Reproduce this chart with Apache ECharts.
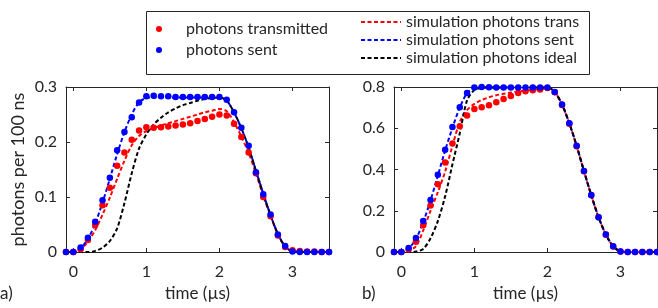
<!DOCTYPE html>
<html>
<head>
<meta charset="utf-8">
<script src="https://cdn.jsdelivr.net/npm/echarts@6/dist/echarts.min.js"></script>
<style>
  html, body { margin: 0; padding: 0; background: #fff; }
  #chart { width: 658px; height: 308px; }
</style>
</head>
<body>
<div id="chart"></div>
<script>
// time grid (µs)
var time = [-0.1, 0, 0.1, 0.2, 0.3, 0.4, 0.5, 0.6, 0.7, 0.8, 0.9, 1.0, 1.1, 1.2, 1.3, 1.4, 1.5, 1.6, 1.7, 1.8,
  1.9, 2.0, 2.1, 2.2, 2.3, 2.4, 2.5, 2.6, 2.7, 2.8, 2.9, 3.0, 3.1, 3.2, 3.3, 3.4, 3.5];

// panel a)
var transA = [0, 0, 0.005, 0.022, 0.049, 0.085, 0.117, 0.157, 0.181, 0.204, 0.221, 0.227, 0.226, 0.227, 0.228, 0.230, 0.232, 0.234, 0.238, 0.242,
  0.246, 0.250, 0.248, 0.233, 0.209, 0.181, 0.143, 0.100, 0.065, 0.030, 0.009, 0.003, 0.002, 0.001, 0.001, 0, 0];
var sentA = [0, 0, 0.008, 0.026, 0.055, 0.094, 0.135, 0.185, 0.218, 0.245, 0.272, 0.283, 0.284, 0.283, 0.283, 0.282, 0.282, 0.282, 0.282, 0.282,
  0.282, 0.282, 0.277, 0.254, 0.226, 0.193, 0.145, 0.105, 0.068, 0.032, 0.011, 0.001, 0, 0, 0, 0, 0];
var simTransA = [0, 0, 0.005, 0.019, 0.040, 0.068, 0.099, 0.133, 0.166, 0.194, 0.211, 0.220, 0.225, 0.230, 0.234, 0.238, 0.242, 0.246, 0.250, 0.254,
  0.257, 0.260, 0.256, 0.236, 0.210, 0.180, 0.143, 0.102, 0.066, 0.032, 0.010, 0.002, 0.001, 0, 0, 0, 0];
var simSentA = [0, 0, 0.007, 0.024, 0.052, 0.090, 0.133, 0.178, 0.218, 0.250, 0.272, 0.280, 0.281, 0.281, 0.281, 0.281, 0.281, 0.281, 0.281, 0.281,
  0.281, 0.281, 0.275, 0.254, 0.225, 0.190, 0.148, 0.106, 0.067, 0.033, 0.010, 0.001, 0, 0, 0, 0, 0];
var idealA = [0, 0, 0, 0, 0.002, 0.008, 0.020, 0.043, 0.089, 0.143, 0.188, 0.214, 0.232, 0.244, 0.254, 0.261, 0.267, 0.271, 0.275, 0.278,
  0.280, 0.281, 0.275, 0.254, 0.225, 0.190, 0.148, 0.106, 0.067, 0.033, 0.010, 0.001, 0, 0, 0, 0, 0];

// panel b)
var transB = [0, 0, 0.012, 0.050, 0.130, 0.226, 0.328, 0.434, 0.526, 0.610, 0.662, 0.693, 0.702, 0.712, 0.726, 0.742, 0.756, 0.771, 0.779, 0.784,
  0.788, 0.795, 0.774, 0.713, 0.622, 0.513, 0.392, 0.275, 0.168, 0.084, 0.027, 0.003, 0, 0, 0, 0, 0];
var sentB = [0, 0, 0.020, 0.068, 0.150, 0.252, 0.374, 0.496, 0.606, 0.702, 0.771, 0.797, 0.800, 0.799, 0.798, 0.798, 0.798, 0.798, 0.798, 0.798,
  0.798, 0.798, 0.776, 0.715, 0.624, 0.515, 0.393, 0.276, 0.169, 0.085, 0.028, 0.003, 0, 0, 0, 0, 0];
var simTransB = [0, 0, 0.006, 0.028, 0.105, 0.200, 0.290, 0.390, 0.515, 0.630, 0.688, 0.718, 0.737, 0.750, 0.760, 0.767, 0.773, 0.778, 0.782, 0.786,
  0.789, 0.792, 0.775, 0.714, 0.623, 0.514, 0.392, 0.275, 0.168, 0.084, 0.027, 0.003, 0, 0, 0, 0, 0];
var simSentB = [0, 0, 0.018, 0.063, 0.145, 0.250, 0.370, 0.492, 0.602, 0.700, 0.770, 0.795, 0.798, 0.798, 0.798, 0.798, 0.798, 0.798, 0.798, 0.798,
  0.798, 0.798, 0.776, 0.715, 0.624, 0.515, 0.393, 0.276, 0.169, 0.085, 0.028, 0.003, 0, 0, 0, 0, 0];
var idealB = [0, 0, 0, 0.002, 0.015, 0.067, 0.150, 0.270, 0.425, 0.575, 0.735, 0.785, 0.796, 0.798, 0.798, 0.798, 0.798, 0.798, 0.798, 0.798,
  0.798, 0.798, 0.776, 0.715, 0.624, 0.515, 0.393, 0.276, 0.169, 0.085, 0.028, 0.003, 0, 0, 0, 0, 0];

var xTicks = [0, 1, 2, 3];
var yMaxA = 0.3, yStepA = 0.1;
var yMaxB = 0.8, yStepB = 0.2;

var names = ['photons transmitted', 'photons sent', 'simulation photons trans', 'simulation photons sent', 'simulation photons ideal'];

var FONT = 'Lato';
var INK = '#262626';

function pairs(ys) {
  return time.map(function (t, i) { return [t, ys[i]]; });
}

var grids = [
  { left: 66, top: 87, width: 263, height: 165 },
  { left: 394, top: 87, width: 263, height: 165 }
];

var xAxes = [], yAxes = [];
[0, 1].forEach(function (g) {
  var base = {
    type: 'value', gridIndex: g, min: -0.1, max: 3.5, interval: 1,
    axisLine: { show: true, onZero: false, lineStyle: { color: INK, width: 1 } },
    axisTick: { show: true, inside: true, length: 4, lineStyle: { color: INK }, customValues: xTicks },
    splitLine: { show: false },
    axisLabel: { color: INK, fontFamily: FONT, fontSize: 16, margin: 12, customValues: xTicks }
  };
  xAxes.push(Object.assign({}, base, {
    position: 'bottom',
    name: 'time (µs)', nameLocation: 'middle', nameGap: 33,
    nameTextStyle: { color: INK, fontFamily: FONT, fontSize: 17 }
  }));
  xAxes.push(Object.assign({}, base, {
    position: 'top',
    axisLabel: { show: false, customValues: xTicks }
  }));
  var ymax = g === 0 ? yMaxA : yMaxB, ystep = g === 0 ? yStepA : yStepB;
  var ybase = {
    type: 'value', gridIndex: g, min: 0, max: ymax, interval: ystep,
    axisLine: { show: true, onZero: false, lineStyle: { color: INK, width: 1 } },
    axisTick: { show: true, inside: true, length: 4, lineStyle: { color: INK } },
    splitLine: { show: false },
    axisLabel: { color: INK, fontFamily: FONT, fontSize: 16, margin: 9 }
  };
  var left = Object.assign({}, ybase, { position: 'left' });
  if (g === 0) {
    left.name = 'photons per 100 ns';
    left.nameLocation = 'middle';
    left.nameGap = 39;
    left.nameTextStyle = { color: INK, fontFamily: FONT, fontSize: 18 };
  }
  yAxes.push(left);
  yAxes.push(Object.assign({}, ybase, { position: 'right', axisLabel: { show: false } }));
});

var panels = [
  { trans: transA, sent: sentA, simT: simTransA, simS: simSentA, ideal: idealA },
  { trans: transB, sent: sentB, simT: simTransB, simS: simSentB, ideal: idealB }
];

var series = [];
panels.forEach(function (p, g) {
  var xi = g * 2, yi = g * 2;
  var dash = { type: [4, 2.5], width: 2 };
  series.push({
    name: names[2], type: 'line', xAxisIndex: xi, yAxisIndex: yi, data: pairs(p.simT),
    symbol: 'none', smooth: 0.3, itemStyle: { color: '#ff0000' },
    lineStyle: Object.assign({ color: '#ff0000' }, dash), z: 2
  });
  series.push({
    name: names[3], type: 'line', xAxisIndex: xi, yAxisIndex: yi, data: pairs(p.simS),
    symbol: 'none', smooth: 0.3, itemStyle: { color: '#0000ff' },
    lineStyle: Object.assign({ color: '#0000ff' }, dash), z: 2
  });
  series.push({
    name: names[4], type: 'line', xAxisIndex: xi, yAxisIndex: yi, data: pairs(p.ideal),
    symbol: 'none', smooth: 0.3, itemStyle: { color: '#000000' },
    lineStyle: Object.assign({ color: '#000000' }, dash), z: 3
  });
  series.push({
    name: names[0], type: 'scatter', xAxisIndex: xi, yAxisIndex: yi, data: pairs(p.trans),
    symbolSize: 6.5, itemStyle: { color: '#ff0000', opacity: 1 }, z: 4
  });
  series.push({
    name: names[1], type: 'scatter', xAxisIndex: xi, yAxisIndex: yi, data: pairs(p.sent),
    symbolSize: 6.5, itemStyle: { color: '#0000ff', opacity: 1 }, z: 5
  });
});

var chart = echarts.init(document.getElementById('chart'), null, { renderer: 'canvas' });
chart.setOption({
  animation: false,
  textStyle: { fontFamily: FONT, color: INK },
  title: [
    { text: 'a)', left: 0, top: 285, textStyle: { fontFamily: FONT, fontSize: 17, fontWeight: 'normal', color: INK }, padding: 0 },
    { text: 'b)', left: 362, top: 285, textStyle: { fontFamily: FONT, fontSize: 17, fontWeight: 'normal', color: INK }, padding: 0 }
  ],
  legend: [
    {
      data: [names[0], names[1]], orient: 'vertical', left: 156, top: 21, padding: 0,
      icon: 'circle', itemWidth: 6, itemHeight: 6, itemGap: 5,
      textStyle: { fontFamily: FONT, fontSize: 16, color: INK, padding: [0, 0, 0, 19] }
    },
    {
      data: [names[2], names[3], names[4]], orient: 'vertical', left: 360, top: 14, padding: 0,
      itemWidth: 40, itemHeight: 10, itemGap: 2,
      itemStyle: { opacity: 0 },
      textStyle: { fontFamily: FONT, fontSize: 16, color: INK }
    }
  ],
  graphic: [{
    type: 'rect', left: 144, top: 9, shape: { width: 443, height: 63 },
    style: { fill: null, stroke: INK, lineWidth: 1 }, silent: true
  }],
  grid: grids,
  xAxis: xAxes,
  yAxis: yAxes,
  series: series
});
</script>
</body>
</html>
